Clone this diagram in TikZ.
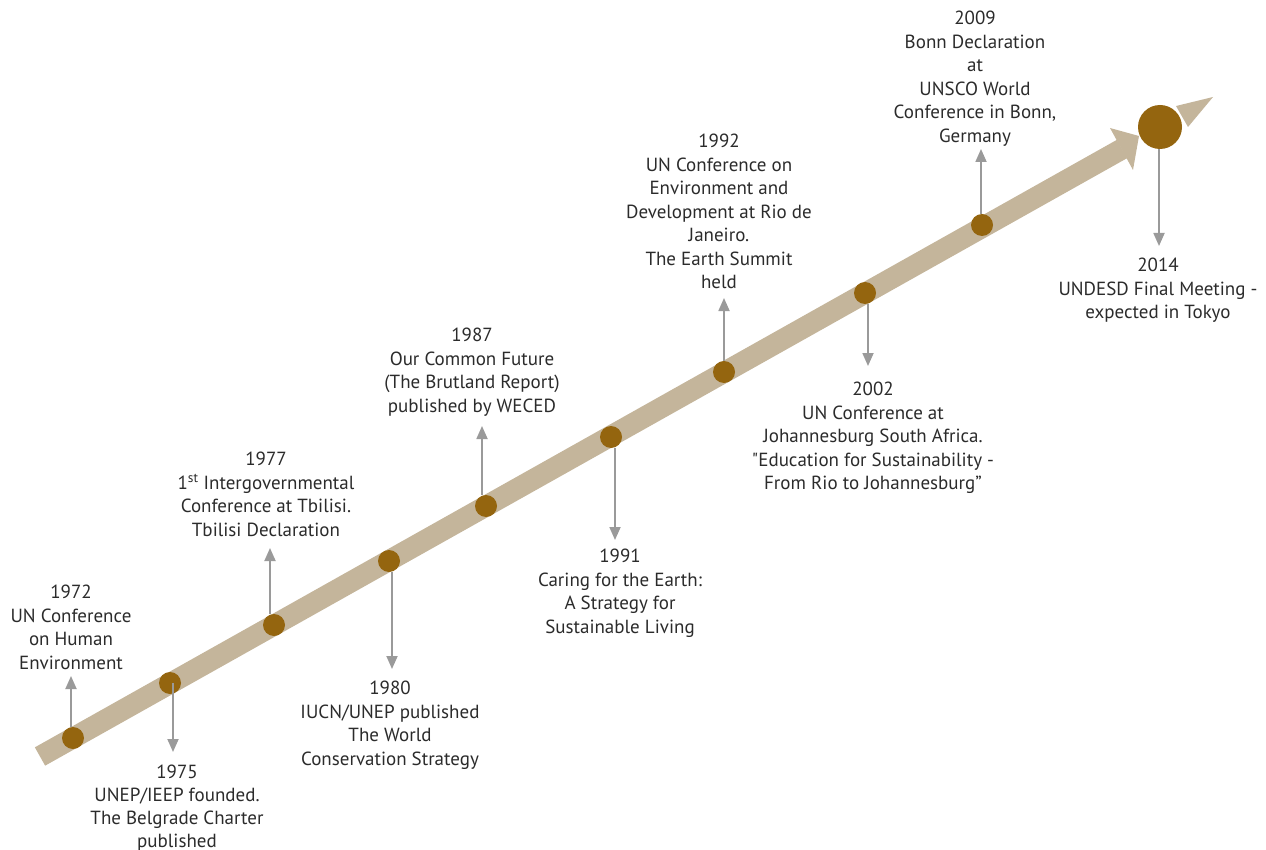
\documentclass[tikz,border=0pt]{standalone}
\usepackage{fontspec}
\setmainfont{PT Sans}
\newfontfamily\nomapfont{PT Sans}[Ligatures=ResetAll]
\usetikzlibrary{arrows.meta}
\definecolor{bandc}{HTML}{C4B59B}
\definecolor{dotc}{HTML}{94650F}
\definecolor{connc}{HTML}{9A9A9A}
\definecolor{txtc}{HTML}{2B2B2B}
\begin{document}
\begin{tikzpicture}[x=1pt,y=-1pt,
  ev/.style={circle,fill=dotc,minimum size=22pt,inner sep=0pt},
  lbl/.style={align=center,anchor=north,inner sep=0pt,text=txtc,font=\fontsize{19}{23.5}\selectfont},
  conn/.style={draw=connc,line width=1.8pt,-{Triangle[length=13pt,width=11pt]}}
]
\useasboundingbox (0,0) rectangle (1266,850);
% band and arrowhead
\draw[bandc,line width=21pt] (40,756.5) -- (1122,149);
\fill[bandc] (1110,128) -- (1139,136) -- (1133,170) -- cycle;
\fill[bandc] (1176,106) -- (1213,97) -- (1188,127) -- cycle;
% events
\node[ev] (e72) at (73,738) {};
\node[ev] (e75) at (170,683) {};
\node[ev] (e77) at (274,625) {};
\node[ev] (e80) at (389,561) {};
\node[ev] (e87) at (486,506) {};
\node[ev] (e91) at (611,437) {};
\node[ev] (e92) at (724,372) {};
\node[ev] (e02) at (865,293) {};
\node[ev] (e09) at (982,225) {};
\node[circle,fill=dotc,minimum size=44pt,inner sep=0pt] (e14) at (1160,127) {};
% arrow tips
\coordinate (t72) at (71,676);
\coordinate (t75) at (173,752);
\coordinate (t77) at (270,548);
\coordinate (t80) at (392,669);
\coordinate (t87) at (482,426);
\coordinate (t91) at (615,540);
\coordinate (t92) at (724,298);
\coordinate (t02) at (868,366);
\coordinate (t09) at (981,149);
\coordinate (t14) at (1159,246);
\draw[conn] (e72.north -| t72) -- (t72);
\draw[conn] (e75.center -| t75) -- (t75);
\draw[conn] (e77.north -| t77) -- (t77);
\draw[conn] (e80.south -| t80) -- (t80);
\draw[conn] (e87.north -| t87) -- (t87);
\draw[conn] (e91.south -| t91) -- (t91);
\draw[conn] (e92.north -| t92) -- (t92);
\draw[conn] (e02.south -| t02) -- (t02);
\draw[conn] (e09.north -| t09) -- (t09);
\draw[conn] (e14.south -| t14) -- (t14);
% labels
\node[lbl] (l72) at (71,585) {1972\\UN Conference\\on Human\\Environment};
\node[lbl,font=\fontsize{19}{22.8}\selectfont] (l75) at (177,765) {1975\\UNEP/IEEP founded.\\The Belgrade Charter\\published};
\node[lbl] (l77) at (266,452) {1977\\1\textsuperscript{st} Intergovernmental\\Conference at Tbilisi.\\Tbilisi Declaration};
\node[lbl] (l80) at (390,681) {1980\\IUCN/UNEP published\\The World\\Conservation Strategy};
\node[lbl] (l87) at (472,328) {1987\\Our Common Future\\(The Brutland Report)\\published by WECED};
\node[lbl] (l91) at (620,549) {1991\\Caring for the Earth:\\A Strategy for\\Sustainable Living};
\node[lbl] (l92) at (719,134) {1992\\UN Conference on\\Environment and\\Development at Rio de\\Janeiro.\\The Earth Summit\\held};
\node[lbl] (l02) at (873,382) {2002\\UN Conference at\\Johannesburg South Africa.\\{\nomapfont"}Education for Sustainability -\\From Rio to Johannesburg”};
\node[lbl] (l09) at (975,11) {2009\\Bonn Declaration\\at\\UNSCO World\\Conference in Bonn,\\Germany};
\node[lbl] (l14) at (1158,258) {2014\\UNDESD Final Meeting -\\expected in Tokyo};
\end{tikzpicture}
\end{document}
